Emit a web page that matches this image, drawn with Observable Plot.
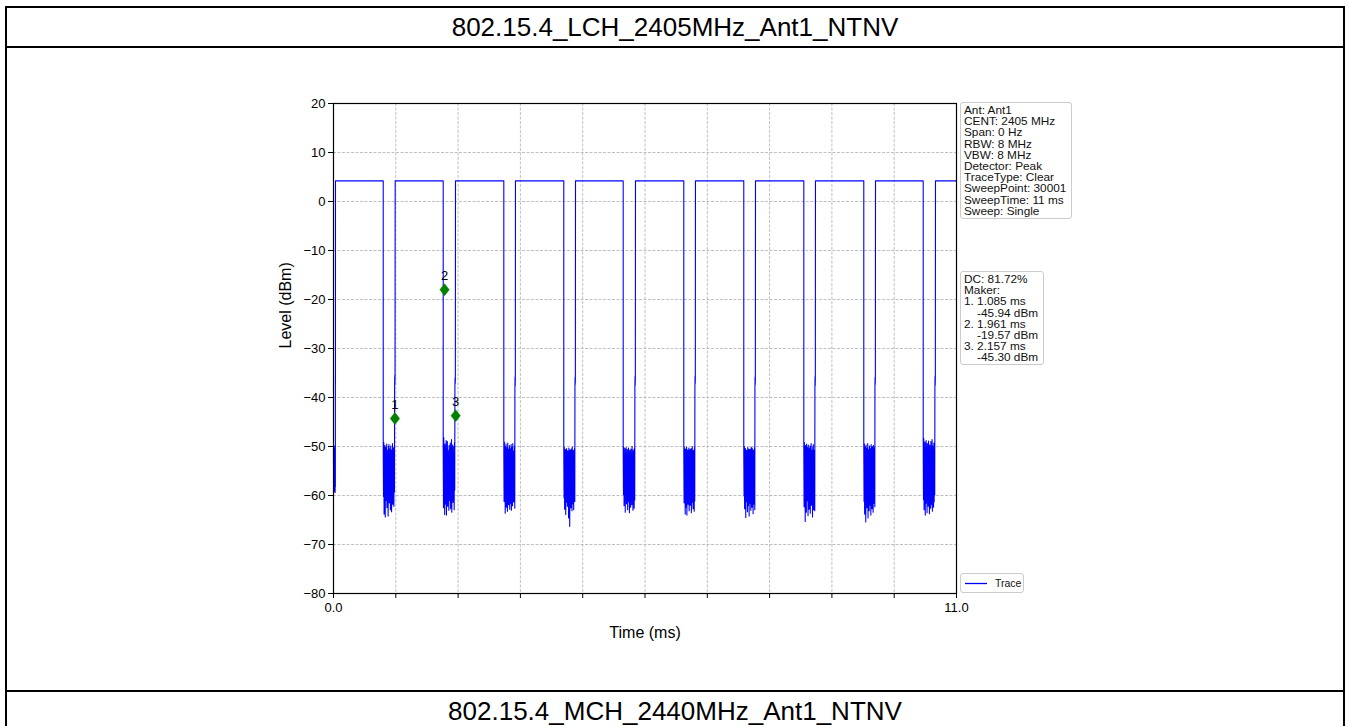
<!DOCTYPE html>
<html>
<head>
<meta charset="utf-8">
<script src="https://cdn.jsdelivr.net/npm/d3@7"></script>
<script src="https://cdn.jsdelivr.net/npm/@observablehq/plot@0.6"></script>
<style>
  html, body { margin: 0; padding: 0; background: #ffffff; }
  body { width: 1349px; height: 726px; position: relative; overflow: hidden; font-family: "Liberation Sans", Arial, sans-serif; }
  .cell { position: absolute; box-sizing: border-box; border: 2px solid #000; }
  .title { position: absolute; left: 5px; width: 1340px; text-align: center; font-size: 26px; line-height: 30px; color: #000; }
  #chart { position: absolute; left: 0; top: 48px; }
  .box { position: absolute; box-sizing: border-box; border: 1px solid #cccccc; border-radius: 3px; background: rgba(255,255,255,0.85);
         font-size: 11.8px; line-height: 11.2px; color: #111; padding: 2px 0 0 3px; white-space: pre; }
  .legend { position: absolute; box-sizing: border-box; border: 1px solid #cccccc; border-radius: 3px; background: #fff; font-size: 10.5px; color: #111; }
</style>
</head>
<body>
<div class="cell" style="left:5px; top:6px; width:1340px; height:42px;"></div>
<div class="cell" style="left:5px; top:46px; width:1340px; height:646px;"></div>
<div class="cell" style="left:5px; top:690px; width:1340px; height:60px;"></div>
<div class="title" id="t1" style="top:12px;"></div>
<div class="title" id="t2" style="top:696px;"></div>
<div id="chart"></div>
<div class="box" id="info" style="left:960px; top:102px; width:112px; height:117px;"></div>
<div class="box" id="dc" style="left:960px; top:271px; width:84px; height:94px;"></div>
<div class="legend" style="left:960px; top:573px; width:64px; height:20px;">
  <svg width="62" height="18" style="position:absolute; left:0; top:0;"><line x1="4" x2="26" y1="9.5" y2="9.5" stroke="#0000ff" stroke-width="1.3"/></svg>
  <span style="position:absolute; left:34px; top:3px;">Trace</span>
</div>
<script>
// ---------- data ----------
const titleTop = "802.15.4_LCH_2405MHz_Ant1_NTNV";
const titleNext = "802.15.4_MCH_2440MHz_Ant1_NTNV";
const xLabel = "Time (ms)";
const yLabel = "Level (dBm)";
const traceName = "Trace";

const xTicks = [0, 1.1, 2.2, 3.3, 4.4, 5.5, 6.6, 7.7, 8.8, 9.9, 11];
const xTickLabels = ["0.0", "", "", "", "", "", "", "", "", "", "11.0"];
const yTicks = [-80, -70, -60, -50, -40, -30, -20, -10, 0, 10, 20];
const yTickLabels = ["\u221280", "\u221270", "\u221260", "\u221250", "\u221240", "\u221230", "\u221220", "\u221210", "0", "10", "20"];

const sweepTime = 11;
const highLevel = 4.2;
const riseTimes = [0.035, 1.089, 2.154, 3.213, 4.273, 5.332, 6.391, 7.451, 8.510, 9.570, 10.629];
const fallTimes = [0.878, 1.937, 3.007, 4.066, 5.115, 6.185, 7.244, 8.304, 9.363, 10.412];
// levels of the short step seen just before each rising edge
const stepLevels = [
  [-37.7, -35.6, -37.3, -36.2],
  [-37.6, -35.5, -37.4, -36.0],
  [-37.9, -36.0, -37.2, -36.4],
  [-37.8, -35.8, -37.6, -36.1],
  [-38.0, -35.9, -37.3, -36.3],
  [-37.7, -35.7, -37.5, -36.0],
  [-37.9, -35.6, -37.2, -36.2],
  [-37.6, -35.8, -37.4, -36.1],
  [-37.8, -35.7, -37.6, -36.3],
  [-37.7, -35.9, -37.3, -36.0],
  [-37.9, -35.6, -37.5, -36.2]
];
// noise floor levels in each off gap (gap 0 = start of sweep, gap k = after fall k-1)
const noiseGaps = [
  [-50.2, -58.8, -49.8, -59.3, -51.0, -58.0, -50.5, -59.0, -52.0, -57.5, -50.4, -58.6, -49.9, -59.4, -51.2, -58.2],
  [-50.5, -60.2, -49.2, -63.8, -51.0, -58.4, -49.8, -64.4, -50.2, -61.0, -51.5, -59.1, -49.5, -62.5, -50.8, -60.5, -52.0, -64.2, -50.0, -58.5, -49.6, -61.5, -50.5, -59.5, -51.2, -62.9, -49.9, -60.1, -50.7, -63.3, -51.4, -58.9, -49.4, -61.8, -50.3, -60.7, -51.8, -62.2, -50.1, -59.3],
  [-51.0, -62.5, -48.2, -60.0, -50.0, -63.9, -49.5, -58.5, -51.2, -61.8, -48.8, -64.0, -50.4, -59.2, -49.0, -62.2, -50.8, -60.4, -51.5, -63.0, -49.8, -59.8, -50.6, -61.0, -49.3, -62.7, -51.1, -60.9, -48.6, -63.4, -50.2, -59.5, -49.7, -61.4, -51.3, -60.2, -50.0, -62.9, -49.2, -58.9],
  [-50.8, -61.2, -49.1, -59.4, -51.3, -63.6, -50.0, -60.8, -49.5, -62.4, -51.6, -58.9, -50.2, -63.2, -49.3, -60.1, -51.0, -61.9, -50.5, -59.6, -49.8, -62.8, -51.2, -60.4, -50.4, -61.6, -49.6, -63.0, -51.5, -59.2, -50.1, -62.1, -49.4, -60.6, -50.9, -61.3, -51.1, -59.8, -49.9, -62.6],
  [-51.2, -60.5, -50.2, -62.8, -51.8, -59.2, -50.6, -63.9, -52.0, -61.4, -50.4, -60.0, -51.5, -62.2, -50.9, -59.7, -52.3, -64.6, -50.3, -61.1, -51.1, -66.3, -50.7, -60.2, -51.6, -62.5, -50.5, -59.9, -51.9, -63.1, -50.1, -61.7, -51.3, -60.6, -50.8, -62.9, -52.1, -59.4, -50.4, -61.2],
  [-51.0, -59.8, -50.1, -62.1, -51.7, -60.6, -50.4, -63.4, -51.9, -58.8, -50.2, -61.7, -51.3, -60.2, -50.6, -62.9, -52.1, -59.5, -50.3, -61.3, -51.4, -63.5, -50.8, -60.7, -51.2, -62.4, -50.5, -59.3, -51.8, -61.9, -50.0, -60.4, -51.5, -63.0, -50.7, -59.9, -51.1, -62.6, -50.3, -60.9],
  [-50.9, -61.5, -50.2, -59.6, -51.6, -63.8, -50.5, -60.3, -51.1, -62.4, -50.1, -64.0, -51.8, -59.9, -50.7, -61.8, -51.4, -60.6, -50.3, -63.1, -51.9, -59.4, -50.6, -62.0, -51.2, -60.8, -50.4, -63.5, -51.7, -59.7, -50.0, -61.4, -51.3, -62.7, -50.8, -60.1, -51.5, -63.2, -50.2, -61.1],
  [-51.3, -60.1, -50.0, -62.7, -51.6, -59.5, -50.4, -64.5, -51.9, -61.2, -50.8, -60.4, -51.2, -63.3, -50.2, -59.8, -51.7, -62.1, -50.5, -64.2, -51.1, -60.9, -50.6, -61.6, -51.4, -63.0, -50.1, -59.6, -51.8, -62.4, -50.3, -60.7, -51.0, -63.7, -50.7, -59.9, -51.5, -61.8, -50.2, -62.9],
  [-50.6, -62.3, -49.2, -59.7, -51.1, -65.3, -49.8, -60.8, -50.9, -63.4, -49.5, -61.1, -51.4, -59.2, -50.2, -64.1, -49.7, -60.5, -51.2, -62.8, -50.4, -61.7, -49.9, -63.6, -51.0, -60.2, -49.4, -62.0, -50.7, -59.6, -51.3, -64.4, -50.1, -61.4, -49.6, -62.9, -50.8, -60.6, -51.5, -63.1],
  [-50.8, -61.2, -49.5, -63.8, -51.3, -59.6, -50.1, -65.4, -49.7, -60.7, -51.6, -62.5, -50.3, -59.9, -49.4, -64.6, -51.0, -61.4, -50.6, -63.1, -49.9, -60.3, -51.2, -62.0, -50.4, -64.0, -49.6, -60.9, -51.4, -62.7, -50.0, -59.7, -50.9, -63.4, -49.8, -61.6, -51.1, -60.4, -50.2, -62.3],
  [-49.6, -60.8, -48.4, -62.9, -50.5, -59.4, -49.1, -64.0, -50.9, -61.6, -48.8, -60.2, -50.2, -63.5, -49.4, -59.8, -51.1, -62.2, -48.9, -61.0, -50.4, -63.7, -49.7, -60.5, -50.8, -62.6, -49.0, -59.6, -50.3, -61.9, -48.6, -63.2, -49.9, -60.7, -51.0, -62.4, -49.3, -61.3, -50.6, -59.9]
];

const markerNames = ["1", "2", "3"];
const markerTimes = [1.085, 1.961, 2.157];
const markerLevels = [-44.3, -18.0, -43.7];

const infoLines = ["Ant: Ant1", "CENT: 2405 MHz", "Span: 0 Hz", "RBW: 8 MHz", "VBW: 8 MHz", "Detector: Peak",
  "TraceType: Clear", "SweepPoint: 30001", "SweepTime: 11 ms", "Sweep: Single"];
const dcLines = ["DC: 81.72%", "Maker:", "1. 1.085 ms", "    -45.94 dBm", "2. 1.961 ms", "    -19.57 dBm", "3. 2.157 ms", "    -45.30 dBm"];

// ---------- build trace (samples spread evenly across each gap) ----------
const trace = [];
function pushGap(t0, t1, noise, steps) {
  const tn = t1 - (t1 - t0) * 0.06;
  noise.forEach((v, k) => trace.push({t: t0 + (tn - t0) * k / (noise.length - 1), v}));
  steps.forEach((v, k) => trace.push({t: tn + (t1 - tn) * (k + 1) / (steps.length + 1), v}));
}
pushGap(0, riseTimes[0], noiseGaps[0], stepLevels[0]);
for (let i = 0; i < riseTimes.length; i++) {
  trace.push({t: riseTimes[i], v: highLevel});
  if (i < fallTimes.length) {
    trace.push({t: fallTimes[i], v: highLevel});
    pushGap(fallTimes[i], riseTimes[i + 1], noiseGaps[i + 1], stepLevels[i + 1]);
  }
}
trace.push({t: sweepTime, v: highLevel});

const markers = markerNames.map((n, i) => ({name: n, t: markerTimes[i], v: markerLevels[i]}));

const xLab = new Map(xTicks.map((d, i) => [d, xTickLabels[i]]));
const yLab = new Map(yTicks.map((d, i) => [d, yTickLabels[i]]));

const diamond = {
  draw(ctx, size) {
    const s = Math.sqrt(size / Math.PI);
    const hh = s, hw = s * 0.78;
    ctx.moveTo(0, -hh); ctx.lineTo(hw, 0); ctx.lineTo(0, hh); ctx.lineTo(-hw, 0); ctx.closePath();
  }
};

// ---------- texts ----------
document.getElementById("t1").textContent = titleTop;
document.getElementById("t2").textContent = titleNext;
document.getElementById("info").textContent = infoLines.join("\n");
document.getElementById("dc").textContent = dcLines.join("\n");

// ---------- plot ----------
const chart = Plot.plot({
  width: 1349,
  height: 640,
  marginLeft: 333,
  marginRight: 393,
  marginTop: 55,
  marginBottom: 95,
  style: {fontFamily: "'Liberation Sans', Arial, sans-serif", fontSize: "13px", color: "#000", background: "transparent", overflow: "visible"},
  x: {domain: [0, 11]},
  y: {domain: [-80, 20]},
  marks: [
    Plot.gridX(xTicks, {stroke: "#b0b0b0", strokeOpacity: 1, strokeWidth: 0.8, strokeDasharray: "3,1.5"}),
    Plot.gridY(yTicks, {stroke: "#b0b0b0", strokeOpacity: 1, strokeWidth: 0.8, strokeDasharray: "3,1.5"}),
    Plot.line(trace, {x: "t", y: "v", stroke: "#0000ff", strokeWidth: 1.1}),
    Plot.dot(markers, {x: "t", y: "v", symbol: diamond, r: 6, fill: "#008000", stroke: "#008000", strokeWidth: 0.5}),
    Plot.text(markers, {x: "t", y: "v", text: "name", dy: -14, fontSize: 13, fill: "#000"}),
    Plot.frame({stroke: "#000", strokeWidth: 1.2}),
    Plot.axisX(xTicks, {tickSize: 5, tickPadding: 4, tickFormat: d => xLab.get(d), label: null, stroke: "#000"}),
    Plot.axisY(yTicks, {tickSize: 5, tickPadding: 3, tickFormat: d => yLab.get(d), label: null, stroke: "#000"}),
    Plot.text([xLabel], {frameAnchor: "bottom", dy: 44, fontSize: 16, text: d => d, fill: "#000"}),
    Plot.text([yLabel], {frameAnchor: "left", dx: -48, rotate: -90, fontSize: 16, text: d => d, fill: "#000"})
  ]
});
document.getElementById("chart").appendChild(chart);
</script>
</body>
</html>
